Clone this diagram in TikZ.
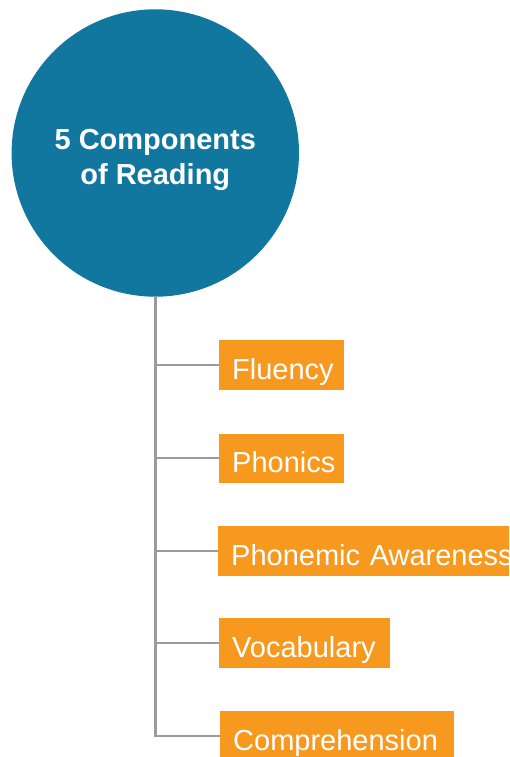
\documentclass[tikz,border=0pt]{standalone}
\usepackage{fontspec}
\setmainfont{Liberation Sans}
\definecolor{rootblue}{HTML}{11779F}
\definecolor{itemorange}{HTML}{F7991F}
\definecolor{linegray}{HTML}{9B9B9B}
\tikzset{
  rootcircle/.style={circle, fill=rootblue, draw=none, minimum size=287.4pt, inner sep=0pt},
  roottext/.style={text=white, font=\bfseries\fontsize{29}{35}\selectfont, align=center, inner sep=0pt},
  itembox/.style={fill=itemorange, text=white, font=\fontsize{29}{34}\selectfont, anchor=north west,
    inner xsep=13pt, inner ysep=0pt, text height=39pt, text depth=10.5pt, align=left},
  conn/.style={draw=linegray, line width=2.4pt}
}
\begin{document}
\begin{tikzpicture}[x=1pt,y=-1pt]
\useasboundingbox (0,0) rectangle (509,757);
\clip (0,0) rectangle (509,757);
\node[rootcircle] (root) at (155.3,153) {};
\node[roottext] (rootlabel) at (155.3,160) {5 Components\\of Reading};
\node[itembox, text width=98.7pt] (flu) at (219,340) {Fluency};
\node[itembox, text width=98.7pt] (pho) at (219,433.3) {Phonics};
\node[itembox, text width=300pt] (pa) at (218,526) {Phonemic Awareness};
\node[itembox, text width=145pt] (voc) at (219,618) {Vocabulary};
\node[itembox, text width=208pt] (comp) at (220,711) {Comprehension};
\draw[conn] (root.south) -- (root.south |- comp.west) -- (comp.west);
\foreach \n in {flu,pho,pa,voc}{
  \draw[conn] (root.south |- \n.west) -- (\n.west);
}
\end{tikzpicture}
\end{document}
